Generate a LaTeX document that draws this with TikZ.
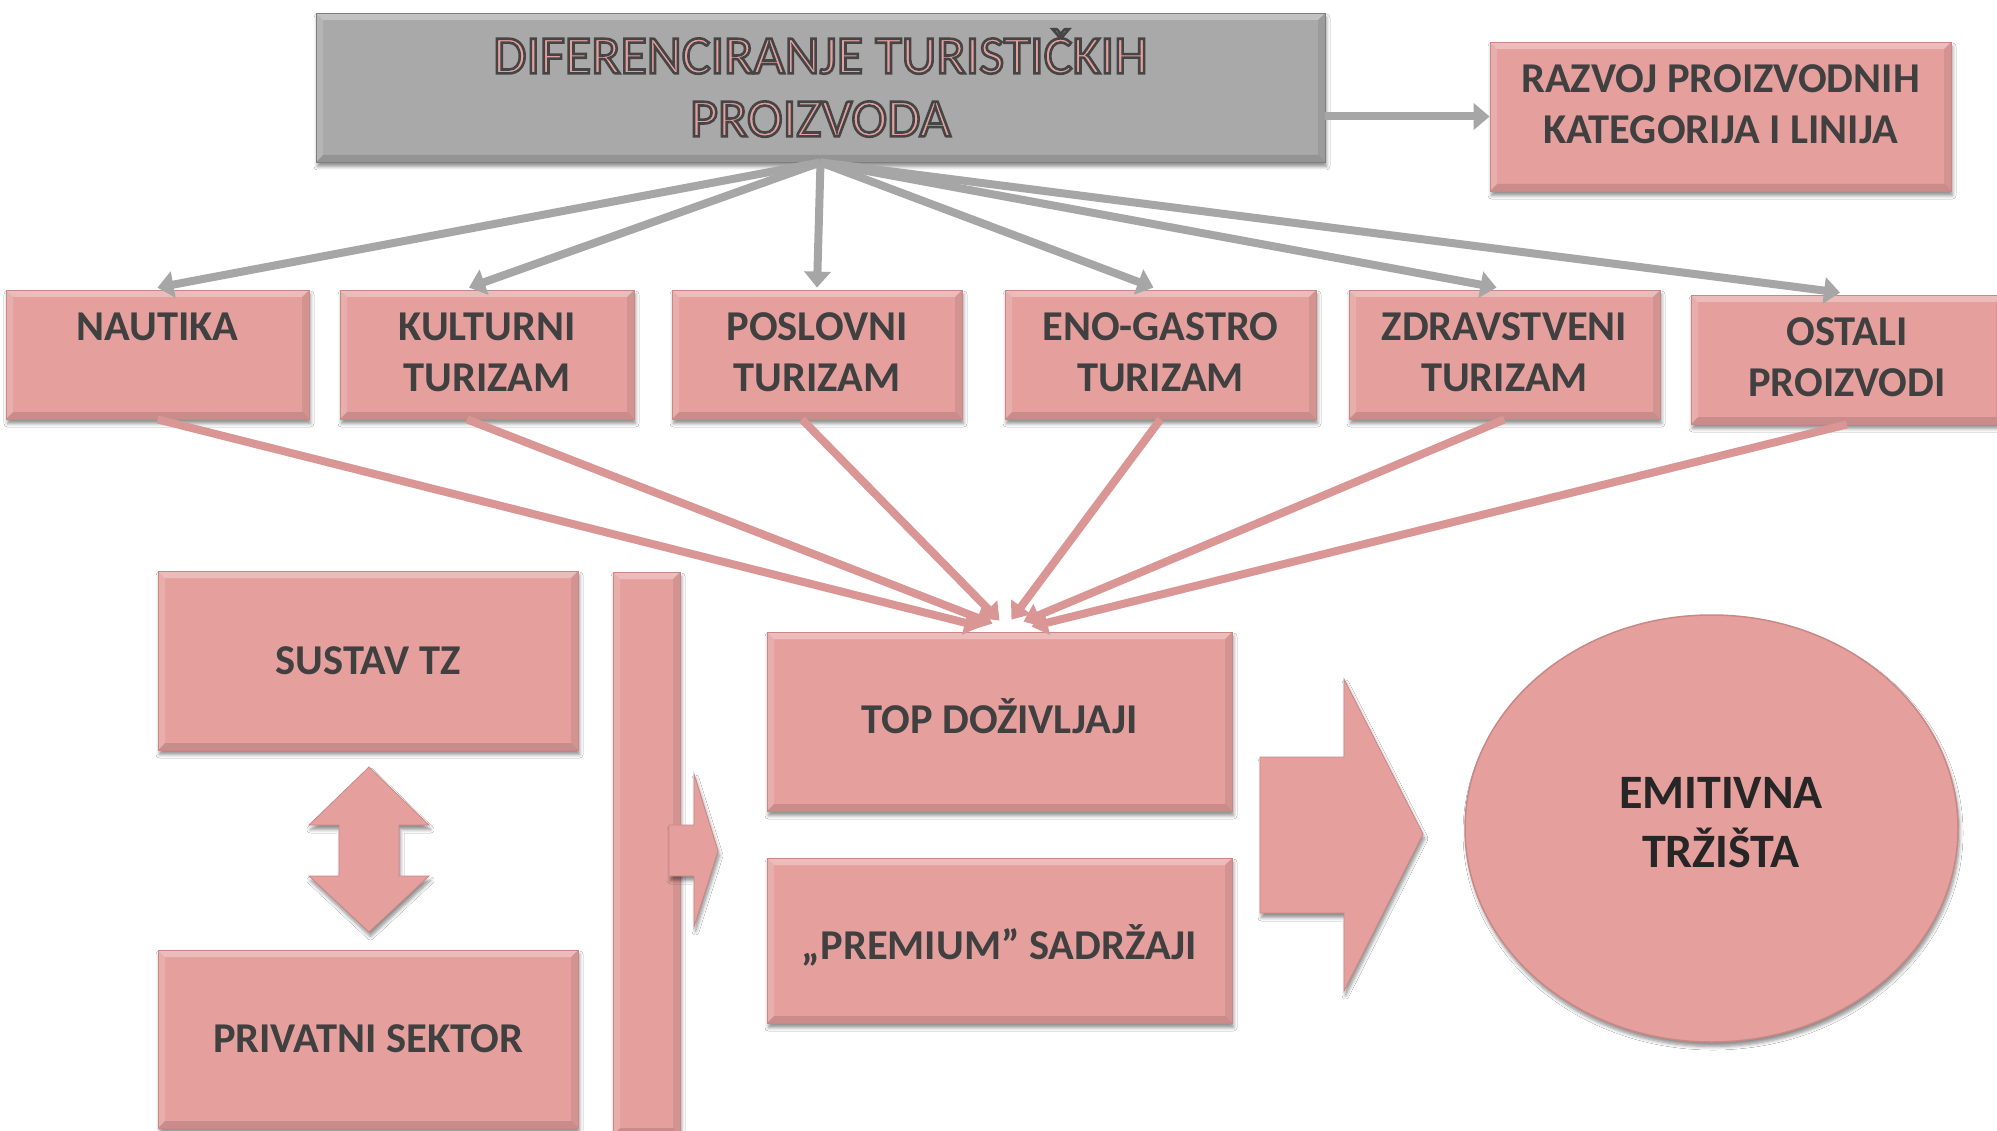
\documentclass[tikz,border=0pt]{standalone}
\usepackage{fontspec}
\setmainfont{Carlito}
\usetikzlibrary{arrows.meta,shadows.blur,shapes.geometric}

\definecolor{boxpink}{HTML}{E5A09E}
\definecolor{edgepink}{HTML}{C98886}
\definecolor{arrowpink}{HTML}{D99694}
\definecolor{titlegray}{HTML}{A9A9A9}
\definecolor{arrowgray}{HTML}{A6A6A6}
\definecolor{txt}{HTML}{404040}
\definecolor{txtdark}{HTML}{262626}

% outlined text: fill with the current colour, stroke in dark grey
\newcommand\outlined[1]{\special{pdf:literal direct 2 Tr 2.6 w 0.27 0.27 0.27 RG}#1\special{pdf:literal direct 0 Tr}}

\tikzset{
  softshadow/.style={blur shadow={shadow xshift=1.5pt,shadow yshift=-4.5pt,
      shadow blur radius=3.5pt,shadow blur steps=6,shadow opacity=45}},
  bevel/.style={path picture={
      \fill[white,opacity=.30] (path picture bounding box.north west)
        -- (path picture bounding box.north east)
        -- ([shift={(-7pt,-7pt)}]path picture bounding box.north east)
        -- ([shift={(7pt,-7pt)}]path picture bounding box.north west) -- cycle;
      \fill[white,opacity=.15] (path picture bounding box.north west)
        -- ([shift={(7pt,-7pt)}]path picture bounding box.north west)
        -- ([shift={(7pt,7pt)}]path picture bounding box.south west)
        -- (path picture bounding box.south west) -- cycle;
      \fill[black,opacity=.12] (path picture bounding box.south west)
        -- (path picture bounding box.south east)
        -- ([shift={(-7pt,7pt)}]path picture bounding box.south east)
        -- ([shift={(7pt,7pt)}]path picture bounding box.south west) -- cycle;
      \fill[black,opacity=.08] (path picture bounding box.north east)
        -- ([shift={(-7pt,-7pt)}]path picture bounding box.north east)
        -- ([shift={(-7pt,7pt)}]path picture bounding box.south east)
        -- (path picture bounding box.south east) -- cycle;
    }},
  pbox/.style={rectangle, fill=boxpink, draw=edgepink, line width=0.8pt,
    bevel, softshadow, inner sep=0pt, align=center, text=txt,
    font=\bfseries\fontsize{42.5}{51}\selectfont},
  boxtext/.style={inner sep=0pt, align=center, text=txt,
    font=\bfseries\fontsize{42.5}{51}\selectfont},
  gbox/.style={pbox, fill=titlegray, draw=titlegray!75!black},
  blockarrow/.style={fill=boxpink, draw=edgepink, line width=0.8pt, softshadow},
  grayarrow/.style={draw=arrowgray, line width=8pt,
    -{Triangle[length=16pt,width=26pt]}},
  pinkarrow/.style={draw=arrowpink, line width=8pt,
    -{Triangle[length=16pt,width=24pt]}},
}

\begin{document}
\begin{tikzpicture}[x=1pt,y=-1pt]
\useasboundingbox (0,0) rectangle (1997,1131);
\fill[white] (0,0) rectangle (1997,1131);
\clip (0,0) rectangle (1997,1131);

% top level
\node[gbox, minimum width=1009pt, minimum height=149pt] (title) at (820.5,87.5) {};
\node[inner sep=0pt, align=center, text=boxpink, font=\fontsize{54}{63}\selectfont]
  (titletxt) at (820.5,83) {\outlined{DIFERENCIRANJE TURISTIČKIH}\\\outlined{PROIZVODA}};
\node[pbox, minimum width=461pt, minimum height=149pt] (razvoj) at (1720.5,116.5) {};
\node[boxtext] (razvojtxt) at (1720.5,104) {RAZVOJ PROIZVODNIH\\KATEGORIJA I LINIJA};

% product row
\node[pbox, minimum width=303pt, minimum height=129pt] (naut) at (157.5,354.5) {};
\node[boxtext] (nauttxt) at (157.5,352) {NAUTIKA\\~};
\node[pbox, minimum width=294pt, minimum height=129pt] (kult) at (487,354.5) {};
\node[boxtext] (kulttxt) at (487,352) {KULTURNI\\TURIZAM};
\node[pbox, minimum width=290pt, minimum height=129pt] (posl) at (817,354.5) {};
\node[boxtext] (posltxt) at (817,352) {POSLOVNI\\TURIZAM};
\node[pbox, minimum width=311pt, minimum height=129pt] (eno) at (1160.5,354.5) {};
\node[boxtext] (enotxt) at (1160.5,352) {ENO-GASTRO\\TURIZAM};
\node[pbox, minimum width=311pt, minimum height=129pt] (zdrav) at (1504.5,354.5) {};
\node[boxtext] (zdravtxt) at (1504.5,352) {ZDRAVSTVENI\\TURIZAM};
\node[pbox, minimum width=312pt, minimum height=129pt] (ostali) at (1847,359.5) {};
\node[boxtext] (ostalitxt) at (1847,357) {OSTALI\\PROIZVODI};

% lower part
\node[pbox, minimum width=465pt, minimum height=179pt] (top) at (999.5,721.5) {};
\node[boxtext] (toptxt) at (999.5,716.5) {TOP DOŽIVLJAJI};
\node[pbox, minimum width=465pt, minimum height=165pt] (prem) at (999.5,940.5) {};
\node[boxtext] (premtxt) at (999.5,945.5) {„PREMIUM” SADRŽAJI};
\node[pbox, minimum width=420pt, minimum height=179pt] (sustav) at (368,660.5) {SUSTAV TZ};
\node[pbox, minimum width=420pt, minimum height=178pt] (priv) at (368,1039) {PRIVATNI SEKTOR};
\node[pbox, minimum width=67pt, minimum height=563pt] (bar) at (646.5,853.5) {};
\node[ellipse, fill=boxpink, draw=edgepink, line width=1.5pt, softshadow,
  minimum width=493pt, minimum height=427pt] (emit) at (1711.5,828.5) {};
\node[boxtext, text=txtdark, font=\bfseries\fontsize{48}{59}\selectfont]
  (emittxt) at (1721,822.5) {EMITIVNA\\TRŽIŠTA};

% block arrows
\draw[blockarrow] (369,767) -- (429,825) -- (399,825) -- (399,876) -- (429,876)
  -- (369,932) -- (309,876) -- (339,876) -- (339,825) -- (309,825) -- cycle;
\draw[blockarrow] (669,825) -- (694,825) -- (694,774) -- (718,851) -- (694,927)
  -- (694,876) -- (669,876) -- cycle;
\draw[blockarrow] (1260,757) -- (1344,757) -- (1344,679) -- (1423,834)
  -- (1344,991) -- (1344,913) -- (1260,913) -- cycle;

% connectors from the title
\draw[grayarrow] (title.east |- razvoj.west) -- (razvoj.west);
\draw[grayarrow] (title.south) -- ([yshift=2pt]naut.north);
\draw[grayarrow] (title.south) -- ([xshift=-18pt,yshift=2pt]kult.north);
\draw[grayarrow] (title.south) -- ([yshift=2pt]posl.north);
\draw[grayarrow] (title.south) -- ([xshift=-7pt,yshift=2pt]eno.north);
\draw[grayarrow] (title.south) -- ([xshift=-8pt,yshift=2pt]zdrav.north);
\draw[grayarrow] (title.south) -- ([xshift=-7pt,yshift=2pt]ostali.north);

% connectors into TOP DOŽIVLJAJI
\draw[pinkarrow] (naut.south) -- ([xshift=-19pt,yshift=5pt]top.north);
\draw[pinkarrow] ([xshift=-20pt]kult.south) -- ([xshift=-7pt,yshift=8pt]top.north);
\draw[pinkarrow] ([xshift=-15pt]posl.south) -- ([yshift=11pt]top.north);
\draw[pinkarrow] (eno.south) -- ([xshift=12pt,yshift=12pt]top.north);
\draw[pinkarrow] (zdrav.south) -- ([xshift=24pt,yshift=10pt]top.north);
\draw[pinkarrow] (ostali.south) -- ([xshift=32pt,yshift=5pt]top.north);
\end{tikzpicture}
\end{document}
